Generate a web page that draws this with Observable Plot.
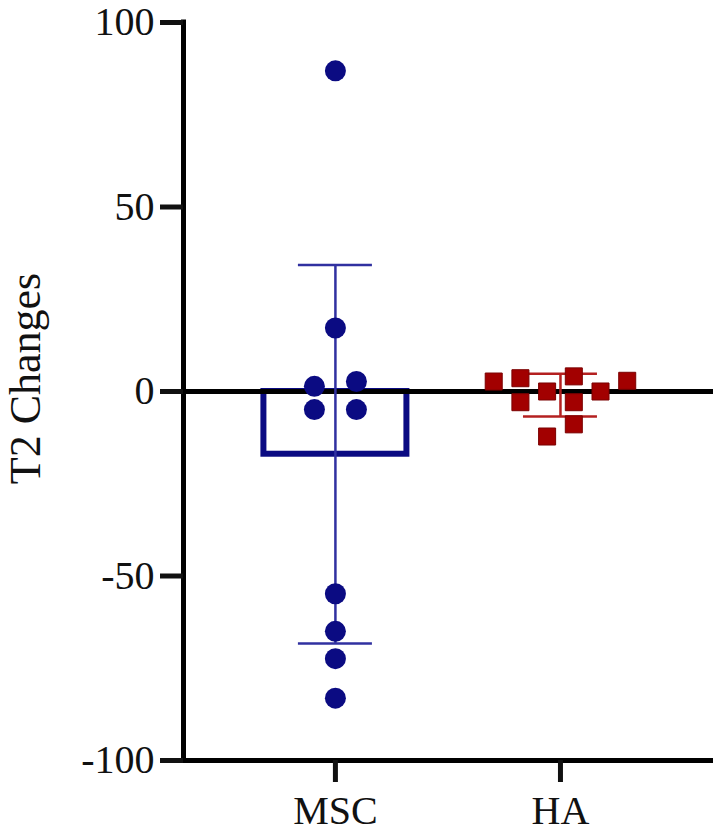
<!DOCTYPE html>
<html><head><meta charset="utf-8">
<script src="https://cdn.jsdelivr.net/npm/d3@7"></script>
<script src="https://cdn.jsdelivr.net/npm/@observablehq/plot@0.6"></script>
<style>body{margin:0;background:#fff}</style>
</head><body><div id="chart"></div>
<script>
// ---- data ----
const groups = ["MSC", "HA"];
const mscValues = [86.9, 17.2, 2.7, 1.4, -4.9, -4.9, -54.8, -65.0, -72.4, -83.1];
const haValues = [4.1, 0, 0, -2.9, -2.9, 3.6, 2.9, 2.7, -8.9, -12.2];
const groupMeans = [-17.0, -1.0];
const groupSDs = [51.3, 5.8];
const yTicks = [-100, -50, 0, 50, 100];
const yLabel = "T2 Changes";

// ---- layout / style constants ----
const W = 726, H = 835, mL = 183, mR = 13, mT = 22, mB = 75;
const xDomain = [-0.675, 1.68];
const yDomain = [-100, 100];
const pxPerX = (W - mL - mR) / (xDomain[1] - xDomain[0]);
const pxPerY = (H - mT - mB) / (yDomain[1] - yDomain[0]);
const barHalf = 71.5 / pxPerX, whiskHalf = 37 / pxPerX;
const mscColor = "#0b0b82", mscErr = "#3030a0";
const haColor = "#a20000", haErr = "#b42020";

// Column-grid scatter: each point goes to the nearest free column,
// then each vertically connected cluster is re-centred on the group.
function scatter(values, gi, group, colPx, sizePx) {
  const cols = [0, -1, 1, -2, 2, -3, 3, -4, 4, -5, 5];
  const placed = [];
  values.forEach((v, i) => {
    const c = cols.find(c => !placed.some(p => p.col === c && Math.abs(p.value - v) * pxPerY < sizePx));
    placed.push({i, value: v, col: c});
  });
  const sorted = placed.slice().sort((a, b) => b.value - a.value);
  const clusters = [];
  for (const p of sorted) {
    const last = clusters[clusters.length - 1];
    if (last && (last[last.length - 1].value - p.value) * pxPerY < sizePx) last.push(p);
    else clusters.push([p]);
  }
  const out = [];
  for (const cl of clusters) {
    const mid = (d3.min(cl, p => p.col) + d3.max(cl, p => p.col)) / 2;
    for (const p of cl) out.push({group, gi, value: p.value, xpos: gi + (p.col - mid) * colPx / pxPerX});
  }
  return out;
}
const mscDots = scatter(mscValues, 0, "MSC", 42, 22);
const haDots = scatter(haValues, 1, "HA", 26.7, 18);
const stats = groups.map((g, i) => ({group: g, gi: i, mean: groupMeans[i], sd: groupSDs[i]}));
const msc = stats.filter(d => d.group === "MSC");
const ha = stats.filter(d => d.group === "HA");

function errMarks(data, color) {
  return [
    Plot.ruleX(data, {x: "gi", y1: d => d.mean - d.sd, y2: d => d.mean + d.sd, stroke: color, strokeWidth: 2.5}),
    Plot.ruleY(data, {y: d => d.mean + d.sd, x1: d => d.gi - whiskHalf, x2: d => d.gi + whiskHalf, stroke: color, strokeWidth: 2.5}),
    Plot.ruleY(data, {y: d => d.mean - d.sd, x1: d => d.gi - whiskHalf, x2: d => d.gi + whiskHalf, stroke: color, strokeWidth: 2.5})
  ];
}

const chart = Plot.plot({
  width: W, height: H, marginLeft: mL, marginRight: mR, marginTop: mT, marginBottom: mB,
  style: {fontFamily: "'Liberation Serif', 'Times New Roman', serif", background: "white", color: "#111"},
  x: {domain: xDomain},
  y: {domain: yDomain},
  marks: [
    Plot.rectY(msc, {x1: d => d.gi - barHalf, x2: d => d.gi + barHalf, y1: 0, y2: "mean",
      fill: "white", stroke: mscColor, strokeWidth: 6}),
    Plot.ruleY([0], {stroke: "#000", strokeWidth: 5}),
    ...errMarks(msc, mscErr),
    ...errMarks(ha, haErr),
    Plot.dot(mscDots, {x: "xpos", y: "value", r: 10.5, fill: mscColor}),
    Plot.dot(haDots, {x: "xpos", y: "value", r: 9.6, symbol: "square", fill: haColor, stroke: "#7a0000", strokeWidth: 1}),
    Plot.ruleX([xDomain[0]], {stroke: "#000", strokeWidth: 5, strokeLinecap: "square"}),
    Plot.ruleY([yDomain[0]], {stroke: "#000", strokeWidth: 5}),
    Plot.axisY({ticks: yTicks, tickFormat: d => String(d), tickSize: 23, tickPadding: 6,
      fontSize: 40, strokeWidth: 5, label: null}),
    Plot.axisX({ticks: [0, 1], tickFormat: i => groups[i], tickSize: 22, tickPadding: 13,
      fontSize: 40, strokeWidth: 5, label: null}),
    Plot.text([yLabel], {frameAnchor: "left", textAnchor: "middle", rotate: -90, dx: -158, dy: -13, fontSize: 44})
  ]
});
document.getElementById("chart").appendChild(chart);
</script>
</body></html>
